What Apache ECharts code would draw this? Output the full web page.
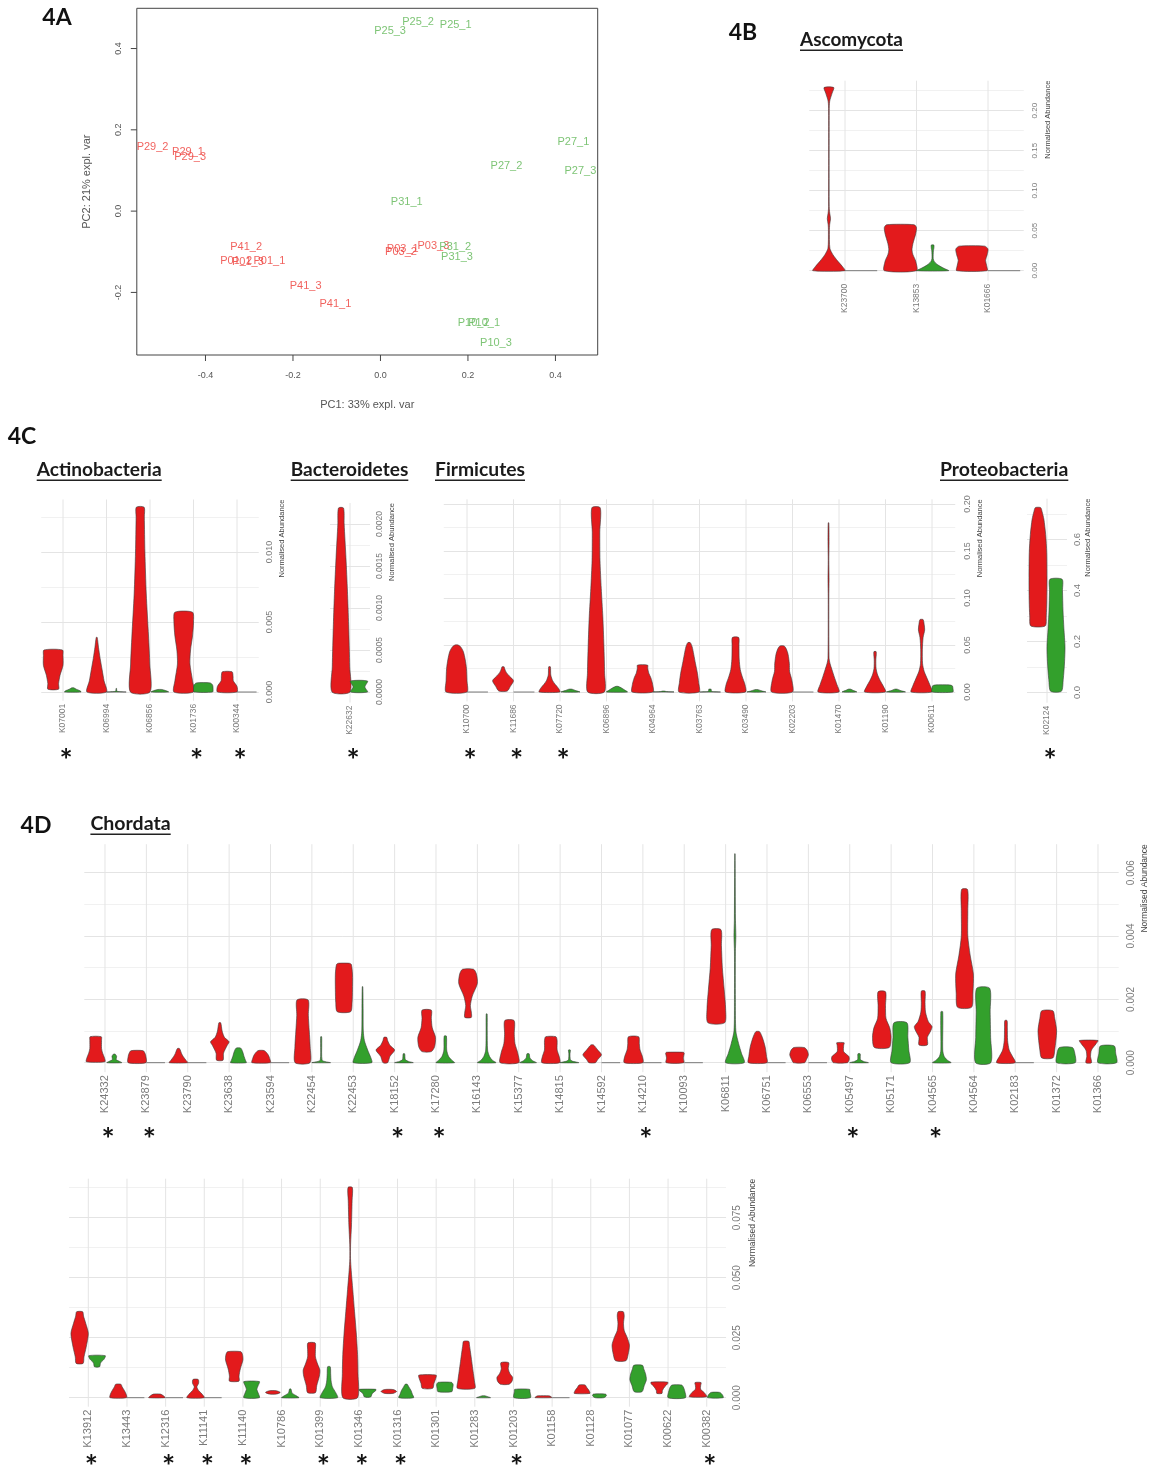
<!DOCTYPE html>
<html lang="en">
<head>
    <meta charset="utf-8">
    <meta name="viewport" content="width=device-width,initial-scale=1.0">
    <title>Figure 4</title>
    <script src="https://cdn.jsdelivr.net/npm/echarts@6.0.0/dist/echarts.min.js"></script>
    <style>
        html, body { margin: 0; padding: 0; background: #fff; }
        #chart { width: 1149px; height: 1469px; }
    </style>
</head>
<body>
<div id="chart"></div>

<script>
    // ---------- 4A: PCA sample labels [name, PC1, PC2]
    var pcaRed = [
        ['P29_2', -0.521, 0.159], ['P29_1', -0.440, 0.146], ['P29_3', -0.435, 0.134],
        ['P41_2', -0.307, -0.089], ['P01_2', -0.330, -0.122], ['P01_3', -0.303, -0.124],
        ['P01_1', -0.254, -0.122], ['P41_3', -0.171, -0.183], ['P41_1', -0.103, -0.228],
        ['P03_1', 0.051, -0.094], ['P03_2', 0.047, -0.101], ['P03_3', 0.121, -0.086]
    ];
    var pcaGreen = [
        ['P25_2', 0.086, 0.466], ['P25_1', 0.172, 0.458], ['P25_3', 0.022, 0.443],
        ['P27_1', 0.441, 0.171], ['P27_2', 0.288, 0.112], ['P27_3', 0.457, 0.099],
        ['P31_1', 0.060, 0.022], ['P31_2', 0.171, -0.087], ['P31_3', 0.175, -0.113],
        ['P10_2', 0.213, -0.276], ['P10_1', 0.237, -0.276], ['P10_3', 0.264, -0.324]
    ];
    var pcaXTicks = [-0.4, -0.2, 0, 0.2, 0.4];
    var pcaYTicks = [-0.2, 0, 0.2, 0.4];

    // ---------- violin profiles: each violin is a list of [abundance, relative half width]
    // 4B Ascomycota
    var ascoCats = ['K23700', 'K13853', 'K01666'];
    var ascoRed = [
        [[0, 1], [0.005, 0.85], [0.012, 0.55], [0.02, 0.25], [0.028, 0.06], [0.05, 0.03], [0.058, 0.05], [0.065, 0.1], [0.072, 0.05], [0.08, 0.02], [0.2, 0.02], [0.212, 0.05], [0.222, 0.2], [0.229, 0.3]],
        [[0, 1], [0.012, 0.95], [0.02, 0.78], [0.026, 0.72], [0.034, 0.78], [0.046, 0.95], [0.054, 1], [0.0575, 0.85]],
        [[0, 0.95], [0.006, 0.92], [0.013, 0.85], [0.02, 0.95], [0.027, 1], [0.0307, 0.8]]
    ];
    var ascoGreen = [
        [[0, 1]],
        [[0, 1], [0.003, 0.7], [0.007, 0.35], [0.011, 0.12], [0.015, 0.04], [0.025, 0.05], [0.028, 0.08], [0.032, 0.08]],
        [[0, 1]]
    ];
    var ascoSig = [];

    // 4C Actinobacteria
    var actCats = ['K07001', 'K06994', 'K06856', 'K01736', 'K00344'];
    var actRed = [
        [[0.0002, 0.55], [0.0006, 0.55], [0.0012, 0.7], [0.0019, 1], [0.0026, 1], [0.003, 0.95]],
        [[0, 1], [0.0008, 0.75], [0.0016, 0.55], [0.0024, 0.35], [0.0032, 0.18], [0.0039, 0.05]],
        [[0, 1], [0.002, 0.98], [0.004, 0.85], [0.007, 0.62], [0.01, 0.48], [0.0125, 0.42], [0.0132, 0.4]],
        [[0, 1], [0.0008, 0.9], [0.002, 0.64], [0.003, 0.7], [0.004, 0.9], [0.005, 1], [0.0057, 0.9]],
        [[0, 1], [0.0004, 1], [0.0008, 0.62], [0.0011, 0.6], [0.00144, 0.5]]
    ];
    var actGreen = [
        [[0, 0.85], [0.0001, 0.7], [0.0002, 0.35], [0.0003, 0.1]],
        [[0, 1], [0.00004, 0.15], [0.0001, 0.04], [0.00025, 0.03]],
        [[0, 0.9], [0.0001, 0.6], [0.00018, 0.2]],
        [[0, 0.95], [0.0002, 1], [0.0005, 0.95], [0.00065, 0.7]],
        [[0, 1]]
    ];
    var actSig = [0, 3, 4];

    // 4C Bacteroidetes
    var bacCats = ['K22632'];
    var bacRed = [
        [[0, 1], [0.0003, 0.97], [0.0008, 0.85], [0.0012, 0.72], [0.0016, 0.55], [0.002, 0.35], [0.00219, 0.28]]
    ];
    var bacGreen = [
        [[0, 0.95], [0.00006, 0.65], [0.00013, 0.95]]
    ];
    var bacSig = [0];

    // 4C Firmicutes
    var firCats = ['K10700', 'K11686', 'K07720', 'K06896', 'K04964', 'K03763', 'K03490', 'K02203', 'K01470', 'K01190', 'K00611'];
    var firRed = [
        [[0, 1], [0.012, 1], [0.025, 0.95], [0.035, 0.82], [0.043, 0.65], [0.048, 0.4], [0.05, 0.15]],
        [[0.001, 0.4], [0.006, 0.7], [0.012, 1], [0.017, 0.6], [0.021, 0.3], [0.025, 0.15], [0.0268, 0.1]],
        [[0, 1], [0.004, 0.85], [0.008, 0.55], [0.012, 0.3], [0.018, 0.12], [0.0268, 0.08]],
        [[0, 0.8], [0.02, 0.82], [0.05, 0.75], [0.08, 0.65], [0.11, 0.5], [0.14, 0.38], [0.17, 0.36], [0.196, 0.4]],
        [[0, 1], [0.008, 0.97], [0.015, 0.8], [0.02, 0.6], [0.025, 0.5], [0.0286, 0.48]],
        [[0, 0.96], [0.01, 0.92], [0.02, 0.8], [0.03, 0.62], [0.04, 0.45], [0.048, 0.3], [0.0525, 0.12]],
        [[0, 0.96], [0.008, 0.9], [0.016, 0.65], [0.024, 0.45], [0.035, 0.35], [0.05, 0.33], [0.058, 0.3]],
        [[0, 1], [0.012, 0.95], [0.022, 0.72], [0.03, 0.7], [0.04, 0.58], [0.046, 0.4], [0.049, 0.2]],
        [[0, 1], [0.008, 0.8], [0.016, 0.55], [0.024, 0.32], [0.03, 0.15], [0.036, 0.05], [0.1, 0.03], [0.12, 0.05], [0.14, 0.03], [0.16, 0.05], [0.18, 0.03]],
        [[0, 1], [0.006, 0.8], [0.012, 0.5], [0.018, 0.25], [0.025, 0.1], [0.035, 0.08], [0.04, 0.12], [0.043, 0.1]],
        [[0, 1], [0.006, 0.85], [0.014, 0.55], [0.022, 0.25], [0.03, 0.1], [0.045, 0.08], [0.058, 0.15], [0.066, 0.3], [0.072, 0.25], [0.077, 0.15]]
    ];
    var firGreen = [
        [[0, 1]],
        [[0, 1]],
        [[0, 0.9], [0.0015, 0.5], [0.003, 0.15]],
        [[0, 1], [0.002, 0.75], [0.0045, 0.4], [0.006, 0.1]],
        [[0, 1], [0.0004, 0.3], [0.001, 0.08]],
        [[0, 1], [0.0005, 0.2], [0.002, 0.1], [0.003, 0.12]],
        [[0, 0.9], [0.001, 0.55], [0.0025, 0.15]],
        [[0, 1]],
        [[0, 0.7], [0.0015, 0.4], [0.003, 0.12]],
        [[0, 0.9], [0.0015, 0.45], [0.003, 0.12]],
        [[0, 1], [0.004, 1], [0.0065, 0.95], [0.0075, 0.7]]
    ];
    var firSig = [0, 1, 2];

    // 4C Proteobacteria
    var proCats = ['K02124'];
    var proRed = [
        [[0.261, 0.8], [0.3, 0.92], [0.36, 0.98], [0.45, 1], [0.55, 0.97], [0.62, 0.85], [0.68, 0.65], [0.71, 0.45], [0.725, 0.3]]
    ];
    var proGreen = [
        [[0.005, 0.6], [0.05, 0.8], [0.12, 0.95], [0.18, 1], [0.25, 0.88], [0.32, 0.78], [0.4, 0.72], [0.444, 0.68]]
    ];
    var proSig = [0];

    // 4D Chordata, top row
    var chTopCats = ['K24332', 'K23879', 'K23790', 'K23638', 'K23594', 'K22454', 'K22453', 'K18152', 'K17280', 'K16143', 'K15377', 'K14815', 'K14592',
        'K14210', 'K10093', 'K06811', 'K06751', 'K06553', 'K05497', 'K05171', 'K04565', 'K04564', 'K02183', 'K01372', 'K01366'];
    var chTopRed = [
        [[0.00003, 1], [0.00015, 0.95], [0.0003, 0.75], [0.00045, 0.63], [0.0007, 0.63], [0.00082, 0.6]],
        [[0, 0.96], [0.0002, 0.95], [0.0003, 0.85], [0.00038, 0.65]],
        [[0, 1], [0.00008, 0.8], [0.0002, 0.5], [0.0003, 0.32], [0.0004, 0.2], [0.00045, 0.1]],
        [[0.00008, 0.35], [0.0003, 0.4], [0.00055, 0.8], [0.00066, 1], [0.0008, 0.5], [0.001, 0.25], [0.00126, 0.1]],
        [[0, 1], [0.0001, 0.95], [0.00025, 0.75], [0.00038, 0.35]],
        [[0, 0.8], [0.0005, 0.82], [0.001, 0.72], [0.0015, 0.62], [0.00198, 0.6]],
        [[0.00161, 0.72], [0.0019, 0.88], [0.0023, 0.92], [0.0028, 0.92], [0.0031, 0.8], [0.00314, 0.6]],
        [[0, 0.25], [0.0002, 0.5], [0.0004, 1], [0.00055, 0.5], [0.0007, 0.25], [0.0008, 0.15]],
        [[0.00035, 0.5], [0.0005, 0.85], [0.0008, 0.95], [0.0011, 0.6], [0.0014, 0.5], [0.00166, 0.5]],
        [[0.00143, 0.35], [0.0016, 0.35], [0.0018, 0.25], [0.0021, 0.45], [0.0025, 1], [0.0028, 0.9], [0.00295, 0.6]],
        [[0, 1], [0.0003, 0.9], [0.0006, 0.6], [0.0009, 0.52], [0.00133, 0.5]],
        [[0, 0.96], [0.0002, 0.9], [0.0004, 0.68], [0.0007, 0.68], [0.00082, 0.55]],
        [[0, 0.35], [0.0001, 0.6], [0.00025, 1], [0.0004, 0.6], [0.00056, 0.15]],
        [[0, 1], [0.0002, 0.95], [0.0004, 0.7], [0.0006, 0.62], [0.00082, 0.55]],
        [[0, 0.95], [0.00015, 0.9], [0.0003, 1], [0.00033, 0.9]],
        [[0.00126, 0.9], [0.0017, 1], [0.0023, 0.85], [0.003, 0.65], [0.0037, 0.55], [0.0042, 0.5]],
        [[0, 1], [0.0002, 0.95], [0.0005, 0.8], [0.0008, 0.5], [0.00098, 0.2]],
        [[0, 0.6], [0.0001, 0.8], [0.00025, 1], [0.0004, 0.85], [0.00048, 0.55]],
        [[0, 0.75], [0.0001, 0.95], [0.0002, 0.9], [0.00035, 0.35], [0.00055, 0.35], [0.00063, 0.4]],
        [[0.00048, 0.8], [0.0008, 1], [0.0011, 0.85], [0.0014, 0.45], [0.0018, 0.4], [0.00224, 0.4]],
        [[0.00056, 0.45], [0.0008, 0.45], [0.001, 0.8], [0.00114, 0.95], [0.0013, 0.55], [0.0016, 0.25], [0.0019, 0.2], [0.00226, 0.2]],
        [[0.00175, 0.75], [0.0022, 0.9], [0.0028, 0.95], [0.0034, 0.6], [0.004, 0.35], [0.0048, 0.35], [0.00547, 0.32]],
        [[0, 1], [0.0002, 0.7], [0.0004, 0.35], [0.0007, 0.18], [0.0011, 0.15], [0.00133, 0.12]],
        [[0.00015, 0.6], [0.0004, 0.8], [0.001, 1], [0.0014, 0.8], [0.00164, 0.6]],
        [[0, 0.3], [0.0002, 0.2], [0.0004, 0.3], [0.0006, 0.8], [0.0007, 1]]
    ];
    var chTopGreen = [
        [[0, 0.8], [0.00005, 0.5], [0.0001, 0.2], [0.0002, 0.25], [0.00027, 0.1]],
        [[0, 1]],
        [[0, 1]],
        [[0, 0.85], [0.00008, 0.75], [0.0002, 0.6], [0.00035, 0.45], [0.00046, 0.25]],
        [[0, 1]],
        [[0, 1], [0.00003, 0.5], [0.00008, 0.1], [0.0006, 0.06], [0.00082, 0.05]],
        [[0, 1], [0.00015, 0.9], [0.0004, 0.55], [0.0007, 0.2], [0.001, 0.08], [0.0017, 0.06], [0.0024, 0.03]],
        [[0, 1], [0.00004, 0.5], [0.0001, 0.15], [0.00028, 0.08]],
        [[0, 1], [0.00008, 0.7], [0.0002, 0.35], [0.0004, 0.15], [0.00084, 0.12]],
        [[0, 1], [0.00008, 0.6], [0.0002, 0.3], [0.0004, 0.1], [0.001, 0.06], [0.00154, 0.05]],
        [[0, 0.9], [0.00006, 0.5], [0.00015, 0.2], [0.00028, 0.12]],
        [[0, 1], [0.00005, 0.3], [0.0001, 0.1], [0.00028, 0.06], [0.0004, 0.1]],
        [[0, 1]],
        [[0, 1]],
        [[0, 1]],
        [[0, 1], [0.0003, 0.7], [0.0006, 0.4], [0.001, 0.1], [0.002, 0.05], [0.0035, 0.05], [0.004, 0.1], [0.0045, 0.06], [0.0066, 0.02]],
        [[0, 1]],
        [[0, 1]],
        [[0, 1], [0.00004, 0.5], [0.0001, 0.15], [0.00028, 0.12]],
        [[0, 1], [0.0004, 0.9], [0.0008, 0.8], [0.00126, 0.7]],
        [[0, 1], [0.00008, 0.6], [0.0002, 0.25], [0.0004, 0.1], [0.00161, 0.1]],
        [[0, 0.82], [0.0008, 0.8], [0.0016, 0.75], [0.00235, 0.7]],
        [[0, 1]],
        [[0, 1], [0.0003, 0.95], [0.00048, 0.7]],
        [[0, 1], [0.0003, 0.9], [0.00053, 0.75]]
    ];
    var chTopSig = [0, 1, 7, 8, 13, 18, 20];

    // 4D Chordata, bottom row
    var chBotCats = ['K13912', 'K13443', 'K12316', 'K11141', 'K11140', 'K10786', 'K01399', 'K01346', 'K01316',
        'K01301', 'K01283', 'K01203', 'K01158', 'K01128', 'K01077', 'K00622', 'K00382'];
    var chBotRed = [
        [[0.0143, 0.4], [0.017, 0.5], [0.021, 0.75], [0.0268, 1], [0.031, 0.7], [0.034, 0.45], [0.0358, 0.35]],
        [[0, 0.96], [0.0015, 0.9], [0.003, 0.7], [0.0045, 0.45], [0.0056, 0.3]],
        [[0, 0.95], [0.0008, 0.75], [0.0015, 0.4]],
        [[0, 1], [0.0015, 0.75], [0.003, 0.35], [0.0045, 0.15], [0.006, 0.35], [0.0076, 0.3]],
        [[0.0069, 0.55], [0.009, 0.55], [0.012, 0.7], [0.0157, 1], [0.018, 0.95], [0.0192, 0.75]],
        [[0.0015, 0.4], [0.0022, 0.85], [0.0029, 0.4]],
        [[0.0021, 0.45], [0.005, 0.6], [0.009, 0.9], [0.0115, 0.96], [0.014, 0.7], [0.017, 0.45], [0.02, 0.45], [0.0228, 0.42]],
        [[0, 0.85], [0.01, 0.9], [0.018, 0.85], [0.027, 0.7], [0.036, 0.5], [0.045, 0.3], [0.053, 0.12], [0.058, 0.04], [0.064, 0.05], [0.072, 0.15], [0.082, 0.22], [0.0876, 0.25]],
        [[0.0018, 0.5], [0.0026, 0.9], [0.0034, 0.5]],
        [[0.0039, 0.6], [0.006, 0.75], [0.008, 0.95], [0.0094, 1]],
        [[0.0039, 1], [0.007, 0.95], [0.011, 0.8], [0.015, 0.65], [0.019, 0.5], [0.022, 0.38], [0.0235, 0.3]],
        [[0.0056, 0.5], [0.007, 0.85], [0.0085, 0.9], [0.01, 0.6], [0.012, 0.4], [0.0146, 0.45]],
        [[0, 0.95], [0.0004, 0.9], [0.0008, 0.6]],
        [[0.0018, 0.9], [0.003, 0.8], [0.0042, 0.55], [0.0053, 0.35]],
        [[0.0154, 0.6], [0.018, 0.85], [0.0219, 1], [0.025, 0.75], [0.028, 0.4], [0.031, 0.32], [0.034, 0.4], [0.0358, 0.3]],
        [[0.0018, 0.3], [0.003, 0.35], [0.0045, 0.6], [0.0058, 0.95], [0.0065, 0.95]],
        [[0.0004, 1], [0.002, 0.75], [0.0035, 0.3], [0.005, 0.3], [0.0063, 0.35]]
    ];
    var chBotGreen = [
        [[0.0129, 0.3], [0.0145, 0.4], [0.016, 0.8], [0.0175, 0.95]],
        [[0, 1]],
        [[0, 1]],
        [[0, 1]],
        [[0, 0.9], [0.002, 0.75], [0.0035, 0.6], [0.005, 0.75], [0.0067, 0.9]],
        [[0, 1], [0.001, 0.6], [0.002, 0.2], [0.0036, 0.08]],
        [[0, 1], [0.002, 0.8], [0.0045, 0.4], [0.007, 0.25], [0.01, 0.2], [0.0129, 0.15]],
        [[0.0003, 0.35], [0.0018, 0.55], [0.003, 0.95], [0.0035, 0.95]],
        [[0, 0.85], [0.0015, 0.7], [0.003, 0.55], [0.0045, 0.3], [0.0056, 0.12]],
        [[0.0025, 0.8], [0.004, 0.9], [0.0055, 0.95], [0.0064, 0.75]],
        [[0, 0.8], [0.0004, 0.5], [0.0008, 0.15]],
        [[0, 0.95], [0.0025, 0.9], [0.0035, 0.85]],
        [[0, 1]],
        [[0, 0.5], [0.0008, 0.8], [0.0015, 0.7]],
        [[0.0025, 0.45], [0.005, 0.7], [0.0075, 0.95], [0.01, 0.85], [0.012, 0.65], [0.0135, 0.5]],
        [[0, 1], [0.003, 0.9], [0.0045, 0.75], [0.0053, 0.55]],
        [[0, 0.9], [0.0012, 0.8], [0.0022, 0.5]]
    ];
    var chBotSig = [0, 2, 3, 4, 6, 7, 8, 11, 16];

    var RED = '#e31a1c';
    var GREEN = '#33a02c';
    var GRID_MAJOR = '#e4e4e4';
    var GRID_MINOR = '#f1f1f1';
    var LABEL = '#7a7a7a';
    var BOX = '#444';
    var PCA_X = [-0.557, 0.4966];
    var PCA_Y = [-0.354, 0.499];

    // panel layout (pixels) and y scale settings
    var panels = [
        { cats: ascoCats, red: ascoRed, green: ascoGreen, sig: ascoSig, left: 809.25, step: 71.5, base: 270.7, ppu: 800,
          major: 0.05, m: 4, j: 1, ymax: 0.2375, dec: 2, xFont: 8.5, yFont: 8, yMargin: 7, nameX: 1048, nameSize: 7.5, starY: 0 },
        { cats: actCats, red: actRed, green: actGreen, sig: actSig, left: 41.25, step: 43.5, base: 692, ppu: 14000,
          major: 0.005, m: 8, j: 1, ymax: 0.01375, dec: 3, xFont: 8.5, yFont: 9, yMargin: 6.5, nameX: 281.7, nameSize: 7.5, starY: 752.3 },
        { cats: bacCats, red: bacRed, green: bacGreen, sig: bacSig, left: 330, step: 40, base: 692, ppu: 84000,
          major: 0.0005, m: 4, j: 1, ymax: 0.00225, dec: 4, xFont: 8.5, yFont: 8.5, yMargin: 5.5, nameX: 391.7, nameSize: 7.5, starY: 752.3 },
        { cats: firCats, red: firRed, green: firGreen, sig: firSig, left: 443.75, step: 46.5, base: 692, ppu: 940,
          major: 0.05, m: 10, j: 2, ymax: 0.205, dec: 2, xFont: 8.5, yFont: 9, yMargin: 8, nameX: 980, nameSize: 7.5, starY: 752.3 },
        { cats: proCats, red: proRed, green: proGreen, sig: proSig, left: 1027, step: 40, base: 692.5, ppu: 255,
          major: 0.2, m: 10, j: 2, ymax: 0.76, dec: 1, xFont: 8.5, yFont: 9.5, yMargin: 5, nameX: 1088, nameSize: 7.5, starY: 752.3 },
        { cats: chTopCats, red: chTopRed, green: chTopGreen, sig: chTopSig, left: 84.3, step: 41.375, base: 1062.7, ppu: 31667,
          major: 0.002, m: 20, j: 3, ymax: 0.0069, dec: 3, xFont: 11, yFont: 10, yMargin: 8, nameX: 1144.5, nameSize: 8.5, starY: 1130.7 },
        { cats: chBotCats, red: chBotRed, green: chBotGreen, sig: chBotSig, left: 69, step: 38.65, base: 1397.7, ppu: 2400,
          major: 0.025, m: 20, j: 3, ymax: 0.09125, dec: 3, xFont: 11, yFont: 10, yMargin: 6, nameX: 753, nameSize: 8.5, starY: 1458.3 }
    ];

    function violinRenderer(p) {
        return function (params, api) {
            var i = api.value(0);
            var cs = params.coordSys;
            var cx = api.coord([i, 0])[0];
            var half = 0.225 * api.size([1, 0])[0];
            var kids = [{
                type: 'line',
                shape: { x1: cx, y1: cs.y, x2: cx, y2: cs.y + cs.height },
                style: { stroke: GRID_MAJOR, lineWidth: 1 }
            }];
            [[p.red[i], -1, RED], [p.green[i], 1, GREEN]].forEach(function (v) {
                var prof = v[0], mid = cx + v[1] * half;
                if (prof.length === 1) {
                    var yy = api.coord([i, prof[0][0]])[1];
                    kids.push({
                        type: 'line',
                        shape: { x1: mid - half * prof[0][1], y1: yy, x2: mid + half * prof[0][1], y2: yy },
                        style: { stroke: '#6e6e6e', lineWidth: 0.9 }
                    });
                    return;
                }
                var right = prof.map(function (q) { return [mid + q[1] * half, api.coord([i, q[0]])[1]]; });
                var left = prof.slice().reverse().map(function (q) { return [mid - q[1] * half, api.coord([i, q[0]])[1]]; });
                kids.push({
                    type: 'polygon',
                    shape: { points: right.concat(left), smooth: 0.25 },
                    style: { fill: v[2], stroke: '#3a3a3a', lineWidth: 0.6 }
                });
            });
            return { type: 'group', children: kids };
        };
    }

    function starRenderer(p) {
        return function (params, api) {
            var x = api.coord([api.value(0), 0])[0];
            return {
                type: 'text',
                style: { text: '*', x: x + 3, y: p.starY + 9, font: 'bold 31px Lato', fill: '#111', align: 'center', verticalAlign: 'middle' }
            };
        };
    }

    var grids = [{ left: 136.8, top: 8.3, width: 460.9, height: 346.7, show: true, borderColor: BOX, borderWidth: 1 }];
    var xAxes = [{
        type: 'value', gridIndex: 0, min: PCA_X[0], max: PCA_X[1],
        name: 'PC1: 33% expl. var', nameLocation: 'middle', nameGap: 44,
        nameTextStyle: { fontSize: 11, color: '#555', fontFamily: 'Liberation Sans' },
        axisLine: { show: false, onZero: false },
        axisTick: { show: false },
        axisLabel: { customValues: pcaXTicks, margin: 16, fontSize: 9, color: '#555', fontFamily: 'Liberation Sans',
            formatter: function (v) { return Math.abs(v * 5 - Math.round(v * 5)) < 1e-6 ? v.toFixed(1) : ''; } },
        splitLine: { show: false }
    }];
    var yAxes = [{
        type: 'value', gridIndex: 0, min: PCA_Y[0], max: PCA_Y[1],
        name: 'PC2: 21% expl. var', nameLocation: 'middle', nameGap: 44, nameRotate: 90,
        nameTextStyle: { fontSize: 11, color: '#555', fontFamily: 'Liberation Sans' },
        axisLine: { show: false, onZero: false },
        axisTick: { show: false },
        axisLabel: { customValues: pcaYTicks, rotate: 90, margin: 14, fontSize: 9, color: '#555', fontFamily: 'Liberation Sans',
            formatter: function (v) { return Math.abs(v * 5 - Math.round(v * 5)) < 1e-6 ? v.toFixed(1) : ''; } },
        splitLine: { show: false }
    }];
    var series = [
        { type: 'scatter', xAxisIndex: 0, yAxisIndex: 0, symbolSize: 1, silent: true,
          itemStyle: { color: 'rgba(0,0,0,0)' },
          data: pcaRed.map(function (d) { return { name: d[0], value: [d[1], d[2]] }; }),
          label: { show: true, position: 'inside', formatter: '{b}', color: '#ee3b36', fontSize: 11, fontFamily: 'Liberation Sans' } },
        { type: 'scatter', xAxisIndex: 0, yAxisIndex: 0, symbolSize: 1, silent: true,
          itemStyle: { color: 'rgba(0,0,0,0)' },
          data: pcaGreen.map(function (d) { return { name: d[0], value: [d[1], d[2]] }; }),
          label: { show: true, position: 'inside', formatter: '{b}', color: '#5db552', fontSize: 11, fontFamily: 'Liberation Sans' } }
    ];
    var graphics = [];

    panels.forEach(function (p, k) {
        var gi = k + 1;
        var t = p.major / p.m;
        var ymin = -p.j * t;
        grids.push({ left: p.left, width: p.cats.length * p.step, top: p.base - p.ymax * p.ppu, height: (p.ymax - ymin) * p.ppu });
        var colors = [];
        for (var c = 0; c < p.m; c++) {
            var r = ((c - p.j) % p.m + p.m) % p.m;
            colors.push(r === 0 ? GRID_MAJOR : (r === p.m / 2 ? GRID_MINOR : 'rgba(0,0,0,0)'));
        }
        xAxes.push({
            type: 'category', gridIndex: gi, data: p.cats, boundaryGap: true,
            axisLine: { show: false, onZero: false }, axisTick: { show: false }, splitLine: { show: false },
            axisLabel: { interval: 0, rotate: 90, margin: 3, fontSize: p.xFont, color: LABEL, fontFamily: 'Liberation Sans' }
        });
        yAxes.push({
            type: 'value', gridIndex: gi, position: 'right', min: ymin, max: p.ymax, interval: t,
            axisLine: { show: false, onZero: false }, axisTick: { show: false },
            axisLabel: {
                rotate: 90, margin: p.yMargin, fontSize: p.yFont, color: LABEL, fontFamily: 'Liberation Sans',
                formatter: function (v) {
                    if (v < -1e-12) return '';
                    var q = v / p.major;
                    return Math.abs(q - Math.round(q)) > 1e-6 ? '' : v.toFixed(p.dec);
                }
            },
            splitLine: { show: true, showMaxLine: false, lineStyle: { color: colors, width: 1 } }
        });
        series.push({
            type: 'custom', coordinateSystem: 'cartesian2d', xAxisIndex: gi, yAxisIndex: gi, silent: true,
            data: p.cats.map(function (name, i) { return [i, 0]; }),
            encode: { x: 0, y: 1 },
            renderItem: violinRenderer(p)
        });
        if (p.sig.length) {
            series.push({
                type: 'custom', coordinateSystem: 'cartesian2d', xAxisIndex: gi, yAxisIndex: gi, silent: true,
                data: p.sig.map(function (i) { return [i, 0]; }),
                encode: { x: 0, y: 1 },
                renderItem: starRenderer(p)
            });
        }
        graphics.push({
            type: 'text', x: p.nameX, y: p.base - p.ymax * p.ppu, rotation: Math.PI / 2,
            style: { text: 'Normalised Abundance', font: p.nameSize + 'px Liberation Sans', fill: '#444', align: 'right', verticalAlign: 'middle' }
        });
    });

    // panel letters and underlined group titles
    var measure = document.createElement('canvas').getContext('2d');
    function addTitle(text, left, width, baseline) {
        measure.font = 'bold 100px Lato';
        var size = 100 * width / measure.measureText(text).width;
        graphics.push({
            type: 'text', x: left, y: baseline - 0.33 * size,
            style: { text: text, font: 'bold ' + size.toFixed(2) + 'px Lato', fill: '#1a1a1a', align: 'left', verticalAlign: 'middle' }
        });
        graphics.push({ type: 'rect', shape: { x: left, y: baseline + 3, width: width, height: 1.6 }, style: { fill: '#222' } });
    }
    addTitle('Ascomycota', 800, 103, 46.5);
    addTitle('Actinobacteria', 36.7, 125, 476.5);
    addTitle('Bacteroidetes', 290.7, 117.6, 476.5);
    addTitle('Firmicutes', 435, 90, 476.5);
    addTitle('Proteobacteria', 940, 128.3, 476.5);
    addTitle('Chordata', 90.4, 80.3, 830.5);

    [['4A', 57, 18], ['4B', 743, 33], ['4C', 22, 437], ['4D', 36, 826]].forEach(function (l) {
        graphics.push({
            type: 'text', x: l[1], y: l[2],
            style: { text: l[0], font: 'bold 23px Lato', fill: '#111', align: 'center', verticalAlign: 'middle' }
        });
    });

    var chart = echarts.init(document.getElementById('chart'));
    chart.setOption({
        animation: false,
        backgroundColor: '#fff',
        grid: grids,
        xAxis: xAxes,
        yAxis: yAxes,
        series: series,
        graphic: graphics
    });

    // R-style tick marks outside the PCA box, placed through the axis scales
    pcaXTicks.forEach(function (v) {
        var pt = chart.convertToPixel({ gridIndex: 0 }, [v, PCA_Y[0]]);
        graphics.push({ type: 'line', shape: { x1: pt[0], y1: pt[1], x2: pt[0], y2: pt[1] + 6 }, style: { stroke: BOX, lineWidth: 1 } });
    });
    pcaYTicks.forEach(function (v) {
        var pt = chart.convertToPixel({ gridIndex: 0 }, [PCA_X[0], v]);
        graphics.push({ type: 'line', shape: { x1: pt[0] - 6, y1: pt[1], x2: pt[0], y2: pt[1] }, style: { stroke: BOX, lineWidth: 1 } });
    });
    chart.setOption({ graphic: graphics });
</script>
</body>
</html>
